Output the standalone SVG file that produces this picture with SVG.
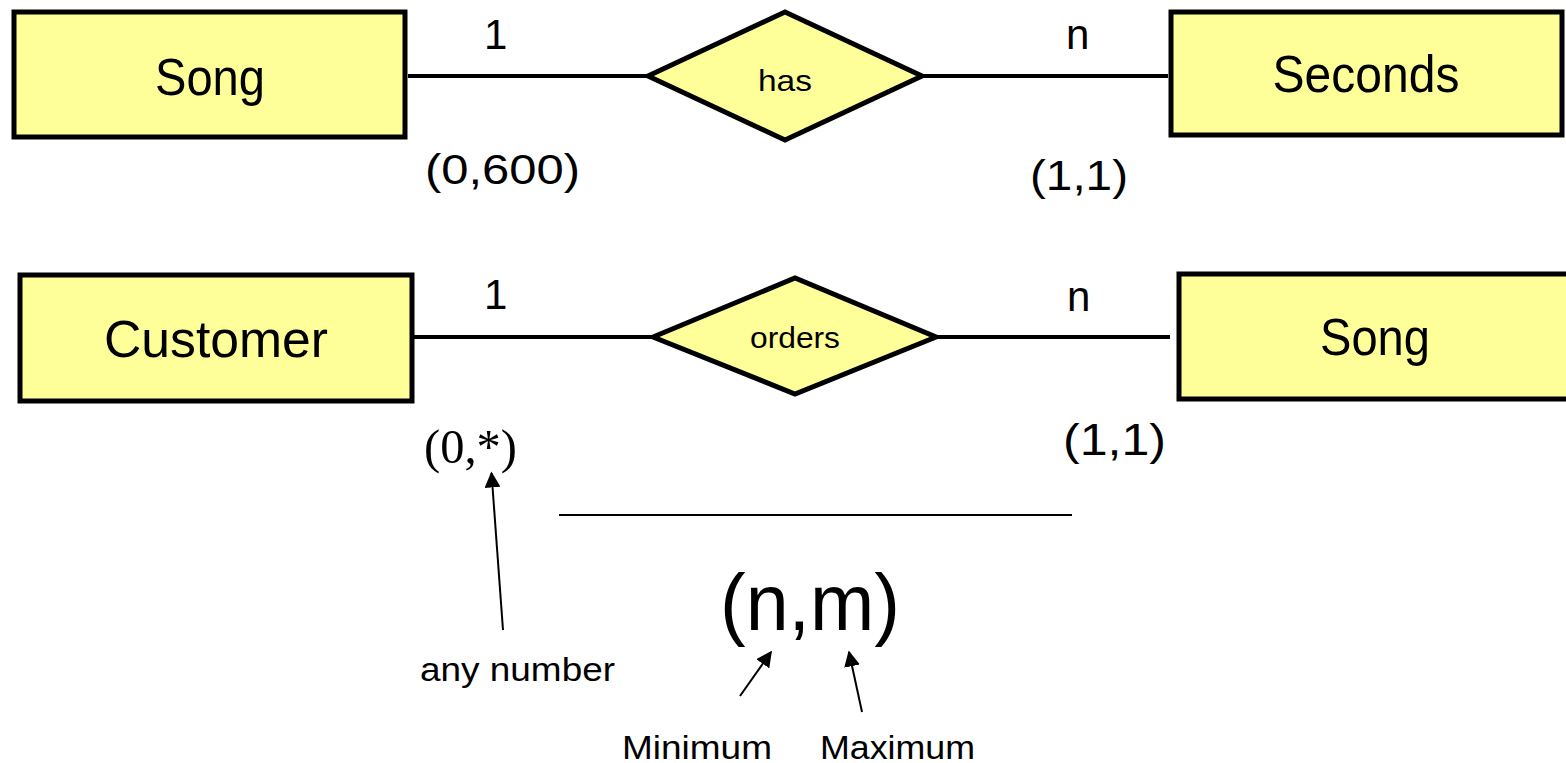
<svg xmlns="http://www.w3.org/2000/svg" width="1566" height="763" viewBox="0 0 1566 763">
<style>
.ent{fill:#FFFF99;stroke:#000;stroke-width:5}
.rel{fill:#FFFF99;stroke:#000;stroke-width:5;stroke-linejoin:miter}
.conn{stroke:#000;stroke-width:4;fill:none}
.thin{stroke:#000;stroke-width:2;fill:none}
.t{font-family:"Liberation Sans",Arial,sans-serif;fill:#000}
.big{font-size:52px;text-anchor:middle}
.lab{font-size:42px}
.small{font-size:30px;text-anchor:middle}
.ser{font-family:"Liberation Serif","Times New Roman",serif;fill:#000}
</style>
<defs>
<marker id="ah" viewBox="0 0 10 10" refX="9" refY="5" markerWidth="8" markerHeight="8" orient="auto" markerUnits="strokeWidth">
<path d="M0,0 L10,5 L0,10 z" fill="#000"/>
</marker>
</defs>

<g id="connectors">
<line class="conn" x1="408" y1="76" x2="648" y2="76"/>
<line class="conn" x1="922" y1="76" x2="1168" y2="76"/>
<line class="conn" x1="413" y1="337" x2="653" y2="337"/>
<line class="conn" x1="936" y1="337" x2="1170" y2="337"/>
<line class="thin" x1="559" y1="515" x2="1072" y2="515"/>
<line class="thin" x1="503" y1="630" x2="491.5" y2="473" marker-end="url(#ah)"/>
<line class="thin" x1="740" y1="696" x2="771" y2="652" marker-end="url(#ah)"/>
<line class="thin" x1="862" y1="712" x2="849" y2="652" marker-end="url(#ah)"/>
</g>

<g id="song1">
<rect class="ent" x="14" y="12" width="391" height="125"/>
<text class="t big" x="210" y="95" textLength="110" lengthAdjust="spacingAndGlyphs">Song</text>
</g>

<g id="has">
<polygon class="rel" points="648,76 785,12 922,76 785,140"/>
<text class="t small" x="785" y="91" textLength="54" lengthAdjust="spacingAndGlyphs">has</text>
</g>

<g id="seconds">
<rect class="ent" x="1171" y="12" width="391" height="123"/>
<text class="t big" x="1366" y="92" textLength="187" lengthAdjust="spacingAndGlyphs">Seconds</text>
</g>

<g id="customer">
<rect class="ent" x="20" y="275" width="392" height="126"/>
<text class="t big" x="216" y="357" textLength="224" lengthAdjust="spacingAndGlyphs">Customer</text>
</g>

<g id="orders">
<polygon class="rel" points="653,337 795,278 936,337 795,394"/>
<text class="t small" x="795" y="348" font-size="28" textLength="90" lengthAdjust="spacingAndGlyphs">orders</text>
</g>

<g id="song2">
<rect class="ent" x="1179" y="274" width="392" height="125"/>
<text class="t big" x="1375" y="355" textLength="110" lengthAdjust="spacingAndGlyphs">Song</text>
</g>

<g id="labels">
<text class="t lab" x="484" y="49">1</text>
<text class="t lab" x="1066" y="49">n</text>
<text class="t lab" x="425" y="184" textLength="155" lengthAdjust="spacingAndGlyphs">(0,600)</text>
<text class="t lab" x="1030" y="190" textLength="98" lengthAdjust="spacingAndGlyphs">(1,1)</text>
<text class="t lab" x="484" y="309">1</text>
<text class="t lab" x="1067" y="311">n</text>
<text class="ser" x="424" y="463" font-size="48" textLength="93" lengthAdjust="spacingAndGlyphs">(0,*)</text>
<text class="t" x="1063" y="455" font-size="44" textLength="103" lengthAdjust="spacingAndGlyphs">(1,1)</text>
<text class="t" x="720" y="630" font-size="80" textLength="180" lengthAdjust="spacingAndGlyphs">(n,m)</text>
<text class="t" x="420" y="681" font-size="33" textLength="195" lengthAdjust="spacingAndGlyphs">any number</text>
<text class="t" x="622" y="759" font-size="33" textLength="150" lengthAdjust="spacingAndGlyphs">Minimum</text>
<text class="t" x="820" y="759" font-size="33" textLength="155" lengthAdjust="spacingAndGlyphs">Maximum</text>
</g>
</svg>
